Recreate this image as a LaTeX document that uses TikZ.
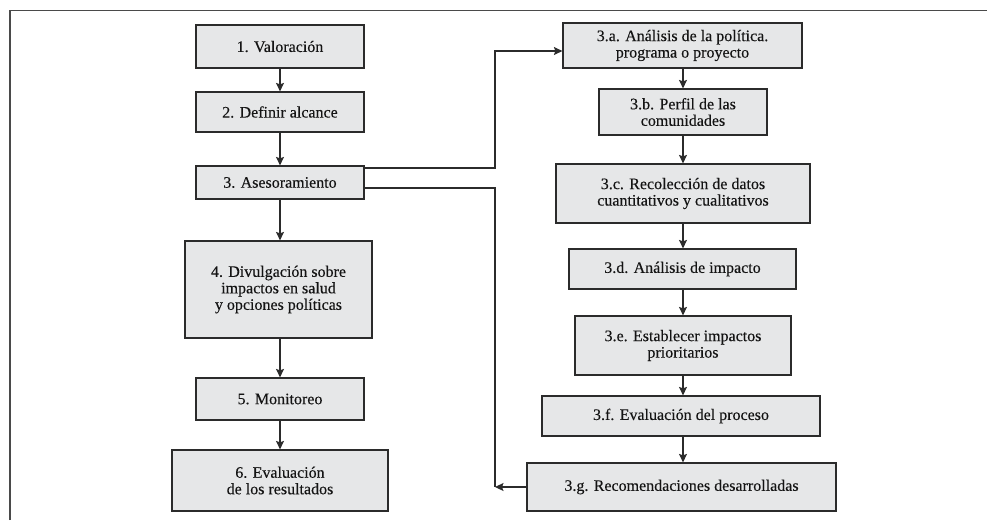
\documentclass[tikz,border=0pt]{standalone}
\usepackage{fontspec}
\setmainfont{Liberation Serif}
\newfontfamily\boxfont{Liberation Serif}[FakeBold=0.2]
\usetikzlibrary{arrows.meta,calc}
\definecolor{boxfill}{HTML}{E6E7E8}
\definecolor{boxline}{HTML}{2B2B2B}
\definecolor{framec}{HTML}{4A4A4A}
\tikzset{
  stepbox/.style={draw=boxline,line width=1.2pt,fill=boxfill,inner sep=0pt,align=center,
    font=\boxfont\fontsize{16}{16.5}\selectfont,text=black!92},
  conn/.style={draw=boxline,line width=1.2pt},
  arr/.style={conn,-{Stealth[length=8.5pt,width=8pt,inset=1.5pt]}}
}
\newcommand{\bx}[6]{% name, x1, x2, y1, y2, text
  \node[stepbox,minimum width=#3-#2,minimum height=#5-#4] (#1) at ({(#2+#3)/2},{(#4+#5)/2}) {#6};}
\begin{document}
\begin{tikzpicture}[x=1pt,y=-1pt]
\useasboundingbox (0,0) rectangle (987,520);
\draw[framec,line width=1.5pt] (10,520) -- (10,10.5) -- (987,10.5);
% left column
\bx{b1}{196}{364}{25}{68}{1. Valoración}
\bx{b2}{196}{364}{92}{132}{2. Definir alcance}
\bx{b3}{196}{364}{166}{199}{3. Asesoramiento}
\bx{b4}{185}{372}{241}{338}{4. Divulgación sobre\\impactos en salud\\y opciones políticas}
\bx{b5}{196}{364}{378}{420}{5. Monitoreo}
\bx{b6}{172}{388}{450}{511}{6. Evaluación\\de los resultados}
% right column
\bx{ba}{563}{802}{23}{68}{3.a. Análisis de la política.\\programa o proyecto}
\bx{bb}{599}{767}{89}{135}{3.b. Perfil de las\\comunidades}
\bx{bc}{556}{810}{164}{223}{3.c. Recolección de datos\\cuantitativos y cualitativos}
\bx{bd}{569}{796}{249}{289}{3.d. Análisis de impacto}
\bx{be}{575}{791}{316}{375}{3.e. Establecer impactos\\prioritarios}
\bx{bf}{542}{820}{396}{436}{3.f. Evaluación del proceso}
\bx{bg}{527}{836}{463}{511}{3.g. Recomendaciones desarrolladas}
% arrows
\draw[arr] (b1.south) -- (b2.north -| b1.south);
\draw[arr] (b2.south) -- (b3.north -| b2.south);
\draw[arr] (b3.south) -- (b4.north -| b3.south);
\draw[arr] (b4.south -| b3.south) -- (b5.north -| b3.south);
\draw[arr] (b5.south) -- (b6.north -| b5.south);
\draw[arr] (bb.north |- ba.south) -- (bb.north);
\draw[arr] (bb.south) -- (bc.north -| bb.south);
\draw[arr] (bb.south |- bc.south) -- (bd.north -| bb.south);
\draw[arr] (bb.south |- bd.south) -- (be.north -| bb.south);
\draw[arr] (bb.south |- be.south) -- (bf.north -| bb.south);
\draw[arr] (bb.south |- bf.south) -- (bg.north -| bb.south);
\coordinate (up) at (495,51);
\coordinate (dn) at (495,487);
\draw[arr] ([yshift=14.5pt]b3.east) -| (up) -- (ba.west |- up);
\draw[conn] ([yshift=-5.5pt]b3.east) -| (dn);
\draw[arr] (bg.west |- dn) -- (dn);
\end{tikzpicture}
\end{document}
